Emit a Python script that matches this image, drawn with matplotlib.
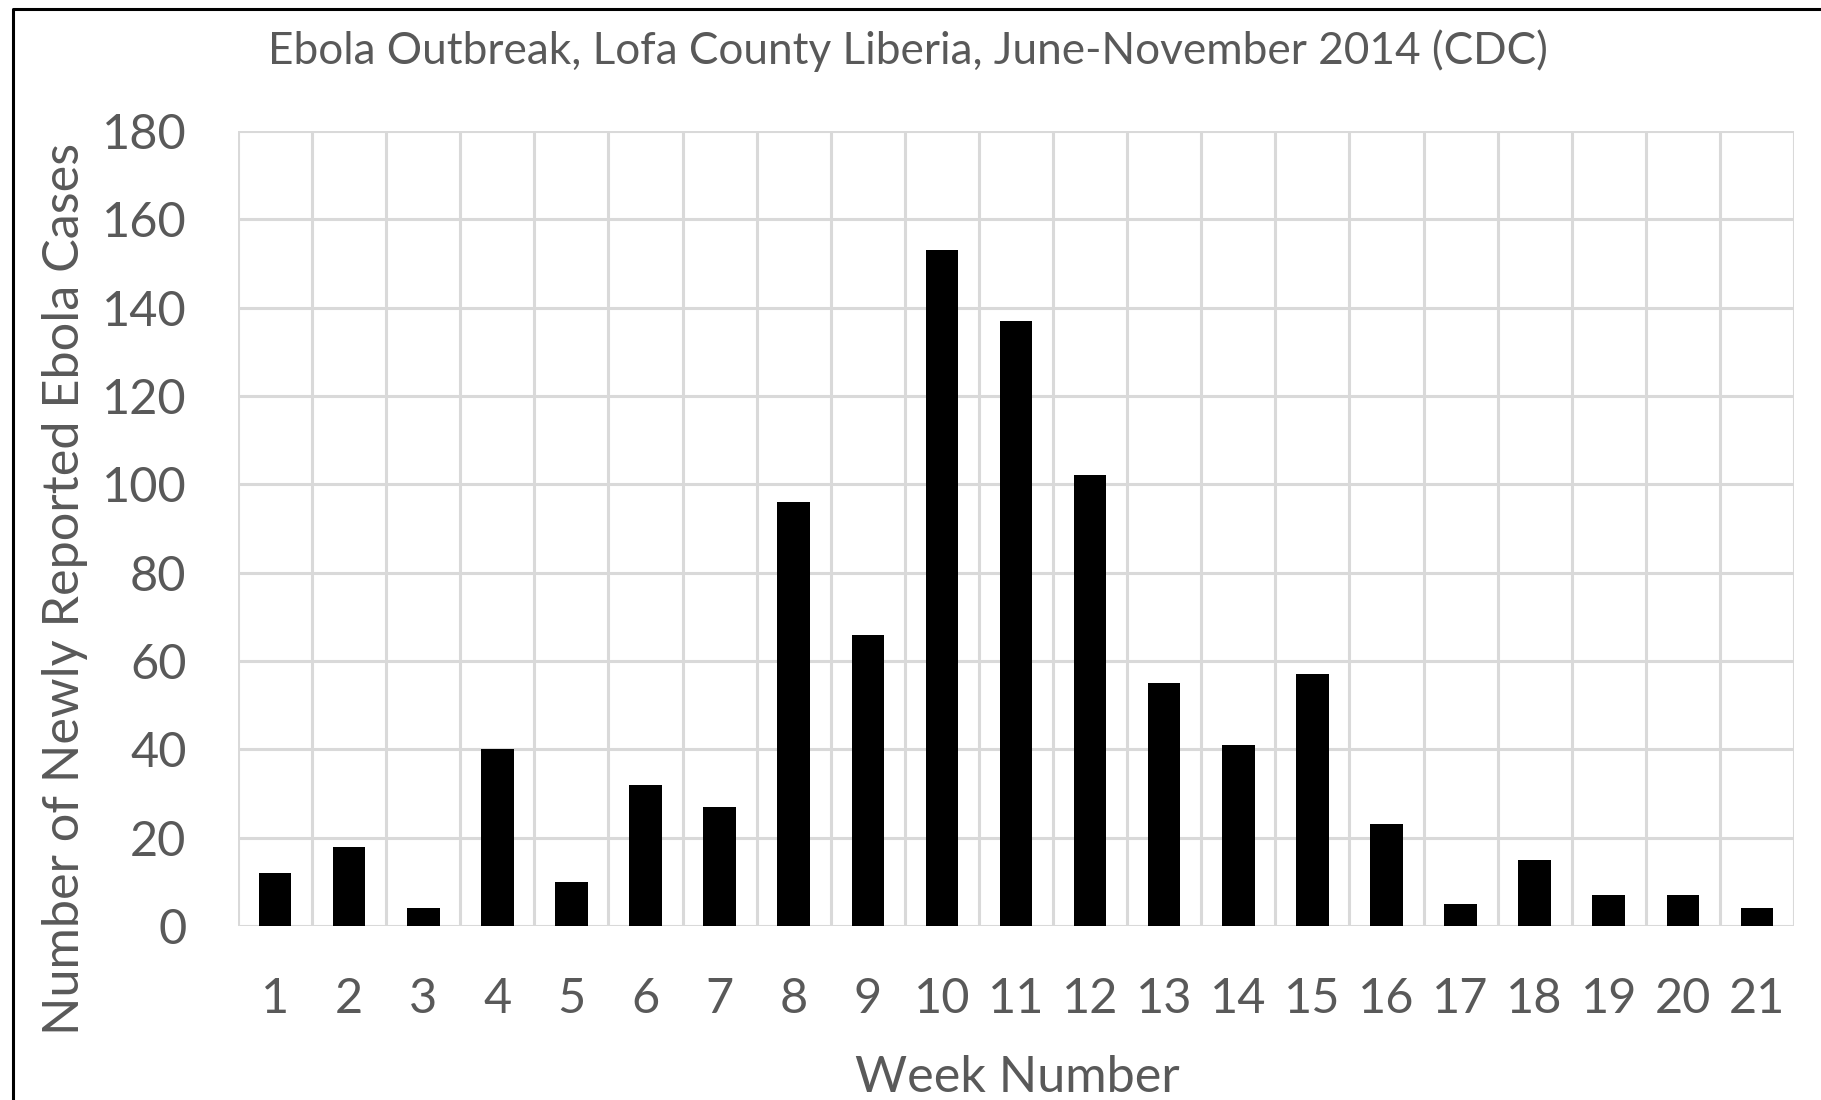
import numpy as np
import matplotlib.pyplot as plt
from matplotlib.lines import Line2D

weeks = list(range(1, 22))
cases = [12, 18, 4, 40, 10, 32, 27, 96, 66, 153, 137, 102, 55, 41, 57, 23, 5, 15, 7, 7, 4]
y_ticks = [0, 20, 40, 60, 80, 100, 120, 140, 160, 180]

title = 'Ebola Outbreak, Lofa County Liberia, June-November 2014 (CDC)'
xlab = 'Week Number'
ylab = 'Number of Newly Reported Ebola Cases'

plt.rcParams['font.family'] = ['Lato', 'DejaVu Sans']
txt = '#595959'
grid = '#d9d9d9'

W, H = 1821, 1100
fig = plt.figure(figsize=(W/100, H/100), dpi=100)
ax = fig.add_axes([238/W, 1 - 926/H, (1794-238)/W, (926-131)/H])

ax.bar(weeks, cases, width=0.44, color='black', zorder=3)

ax.set_xlim(0.5, 21.5)
ax.set_ylim(0, 180)
ax.set_xticks(weeks)
ax.set_xticks(np.arange(0.5, 22, 1), minor=True)
ax.set_yticks(y_ticks)
ax.grid(True, which='minor', axis='x', color=grid, lw=2.2, zorder=0)
ax.grid(True, which='major', axis='y', color=grid, lw=2.2, zorder=0)
ax.tick_params(which='both', length=0)
ax.tick_params(axis='x', pad=36.5, labelsize=35, labelcolor=txt)
ax.tick_params(axis='y', pad=37, labelsize=35, labelcolor=txt)
for s in ax.spines.values():
    s.set_visible(False)

fig.text(908/W, 1 - 51/H, title, ha='center', va='center', fontsize=31.8, color=txt)
fig.text(1017/W, 1 - 1078/H, xlab, ha='center', va='center', fontsize=36.3, color=txt)
fig.text(65/W, 1 - 589/H, ylab, ha='center', va='center', rotation=90, fontsize=36.3, color=txt)

# outer frame (left and top edges only, as in the source)
fig.add_artist(Line2D([13/W, 13/W, 1], [0, 1 - 9/H, 1 - 9/H], color='black', lw=2.2,
                      transform=fig.transFigure))

fig.savefig('out.png', dpi=100)
